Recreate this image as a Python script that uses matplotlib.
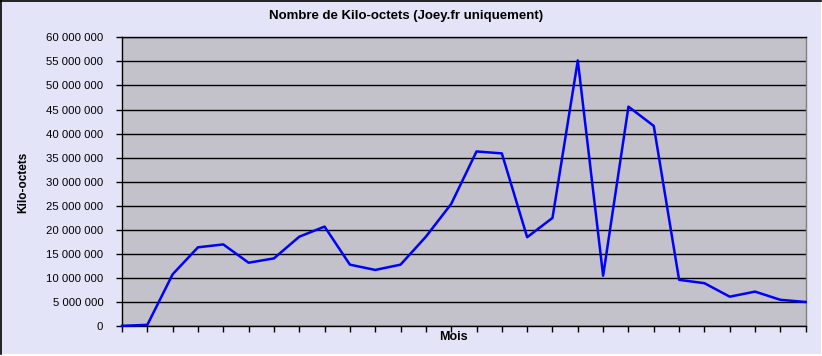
import matplotlib
matplotlib.use("Agg")
import matplotlib.pyplot as plt
from matplotlib.patches import Rectangle
from matplotlib.lines import Line2D
from matplotlib.ticker import FuncFormatter, MultipleLocator

plt.rcParams['font.family'] = ['Liberation Sans', 'DejaVu Sans']

title = "Nombre de Kilo-octets (Joey.fr uniquement)"
x_label = "Mois"
y_label = "Kilo-octets"
months = list(range(28))
kilo_octets = [100000, 300000, 10800000, 16400000, 17000000, 13200000, 14100000,
               18600000, 20700000, 12800000, 11700000, 12800000, 18600000, 25400000,
               36300000, 35900000, 18500000, 22500000, 55200000, 10500000, 45600000,
               41600000, 9650000, 8950000, 6150000, 7200000, 5500000, 5050000]

W, H = 822, 356
fig = plt.figure(figsize=(W / 100, H / 100), dpi=100, facecolor="white")

# chart area background with top/left black edge
fig.patches.append(Rectangle((0, 1 - 353.5 / H), 821 / W, 353.5 / H, transform=fig.transFigure,
                             facecolor="#E4E4F8", edgecolor="none", zorder=-10))
fig.lines.append(Line2D([0.5 / W, 0.5 / W], [1 - 353.5 / H, 1], transform=fig.transFigure,
                        color="black", lw=1.2, zorder=-5))
fig.lines.append(Line2D([0, 821 / W], [1 - 0.6 / H, 1 - 0.6 / H], transform=fig.transFigure,
                        color="black", lw=1.2, zorder=-5))

left, right, top, bottom = 122, 805.7, 37.3, 326.3
ax = fig.add_axes([left / W, 1 - bottom / H, (right - left) / W, (bottom - top) / H])
ax.set_zorder(1)
ax.set_facecolor("#C3C1C9")

ax.plot(months, kilo_octets, color="#0000FF", lw=1.8, zorder=3, clip_on=False)

ax.set_xlim(0, len(months) - 1)
ax.set_ylim(0, 60000000)
ax.yaxis.set_major_locator(MultipleLocator(5000000))
ax.set_xticks(months)
ax.set_xticklabels([])
ax.yaxis.set_major_formatter(FuncFormatter(lambda v, p: "{:,}".format(int(v)).replace(",", " ")))
ax.grid(axis="y", color="black", lw=1.0)
ax.set_axisbelow(True)
ax.tick_params(axis="y", length=4.5, width=1, color="black", labelsize=8.2, pad=9, direction="out")
ax.tick_params(axis="x", length=4, width=1, color="black", direction="out")
for s in ["left", "bottom"]:
    ax.spines[s].set_color("black")
    ax.spines[s].set_linewidth(1)
ax.spines["top"].set_color("black")
ax.spines["top"].set_linewidth(1)
ax.spines["right"].set_color("#808080")
ax.spines["right"].set_linewidth(1)

fig.text(406.5 / W, 1 - 16 / H, title, ha="center", va="center", fontsize=9.5, fontweight="bold")
fig.text(453 / W, 1 - 337.5 / H, x_label, ha="center", va="center", fontsize=9, fontweight="bold")
fig.text(23 / W, 1 - 182 / H, y_label, ha="center", va="center", rotation=90, fontsize=8.5,
         fontweight="bold")

fig.savefig("out.png", dpi=100, facecolor=fig.get_facecolor())
